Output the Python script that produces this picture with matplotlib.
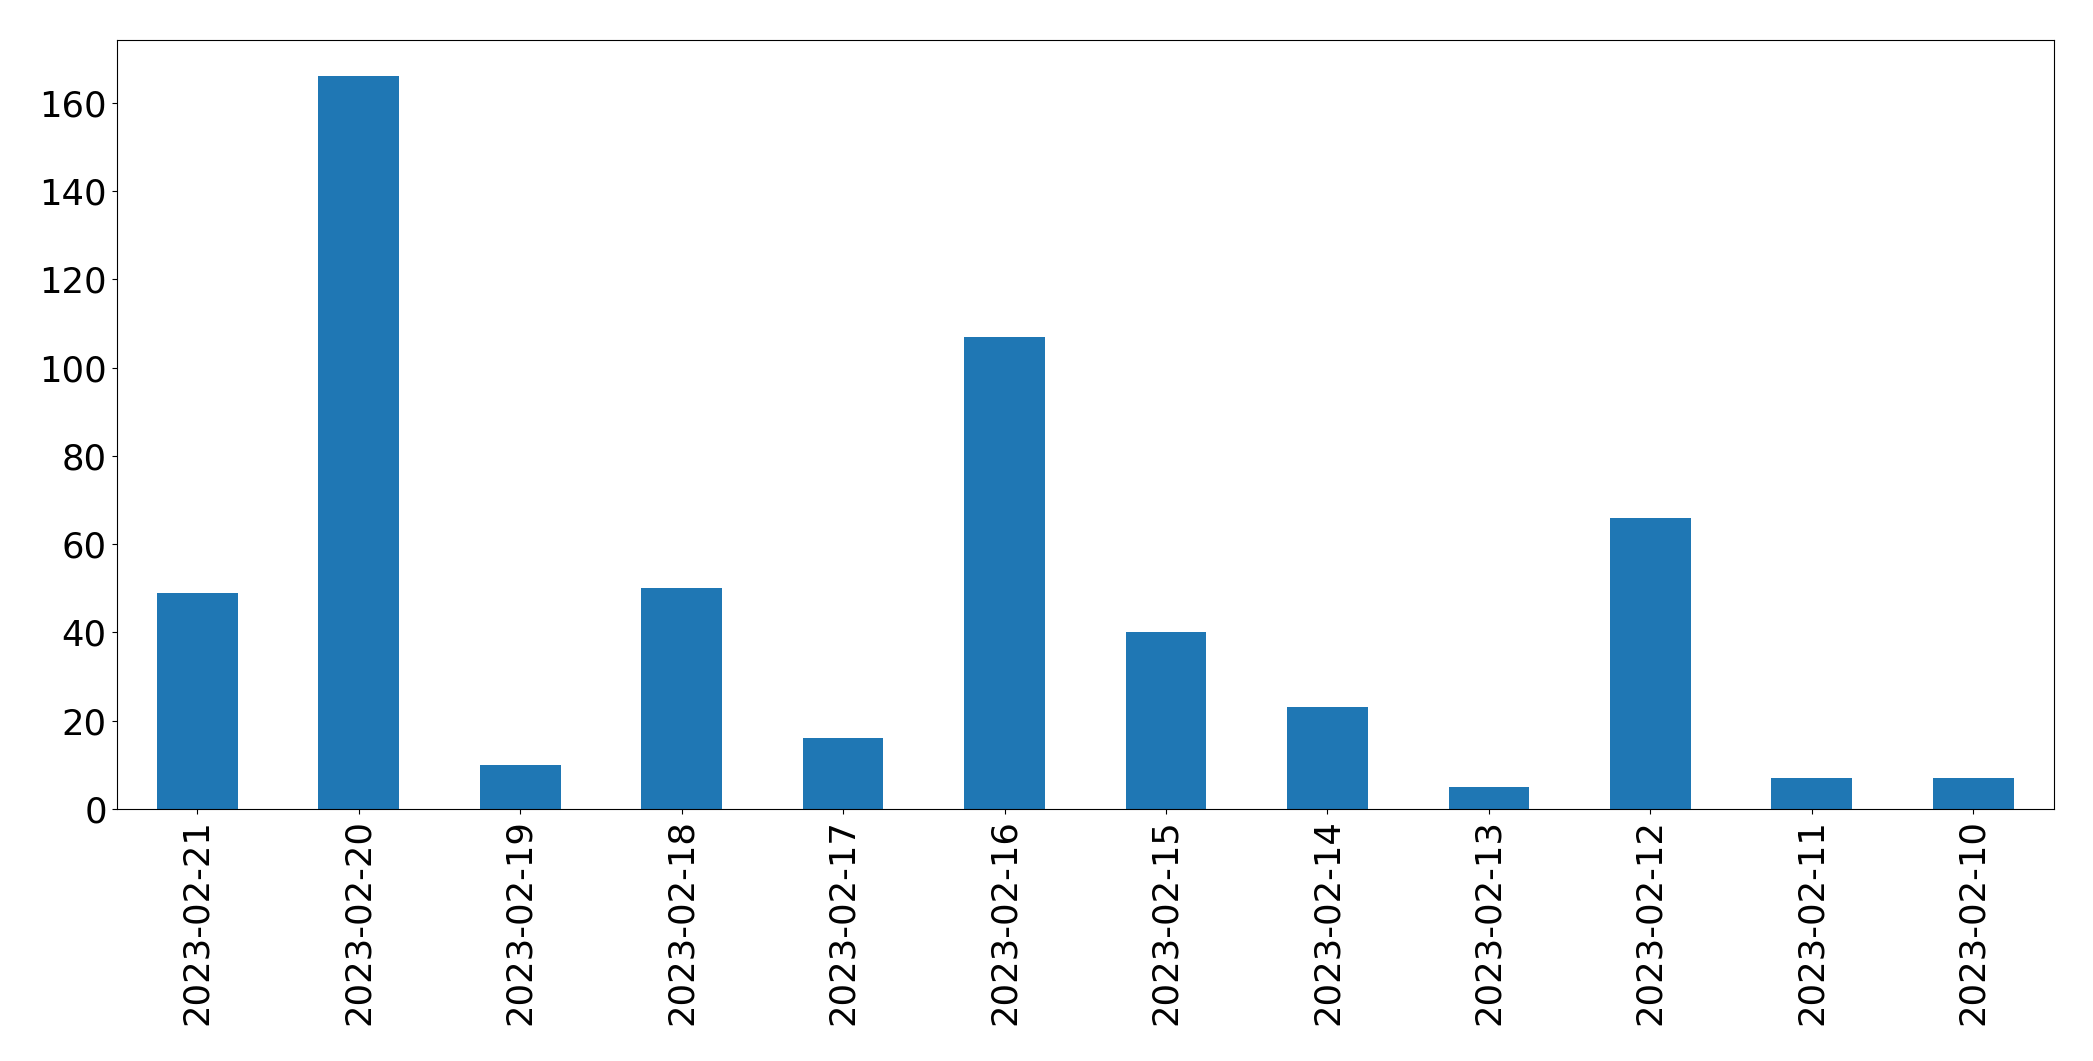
import matplotlib.pyplot as plt
import pandas as pd

# daily counts, newest first (as in the reference)
dates = ['2023-02-21', '2023-02-20', '2023-02-19', '2023-02-18', '2023-02-17', '2023-02-16',
         '2023-02-15', '2023-02-14', '2023-02-13', '2023-02-12', '2023-02-11', '2023-02-10']
counts = [49, 166, 10, 50, 16, 107, 40, 23, 5, 66, 7, 7]

series = pd.Series(counts, index=dates)

fig = plt.figure(figsize=(20.93, 10.61), dpi=100)
ax = fig.add_axes([116.5 / 2093, 1 - 809 / 1061, (2054 - 116.5) / 2093, (809 - 39.5) / 1061])
series.plot(kind='bar', ax=ax, color='#1f77b4', fontsize=25.5)
ax.set_xlabel('')

fig.savefig('out.png', dpi=100)
